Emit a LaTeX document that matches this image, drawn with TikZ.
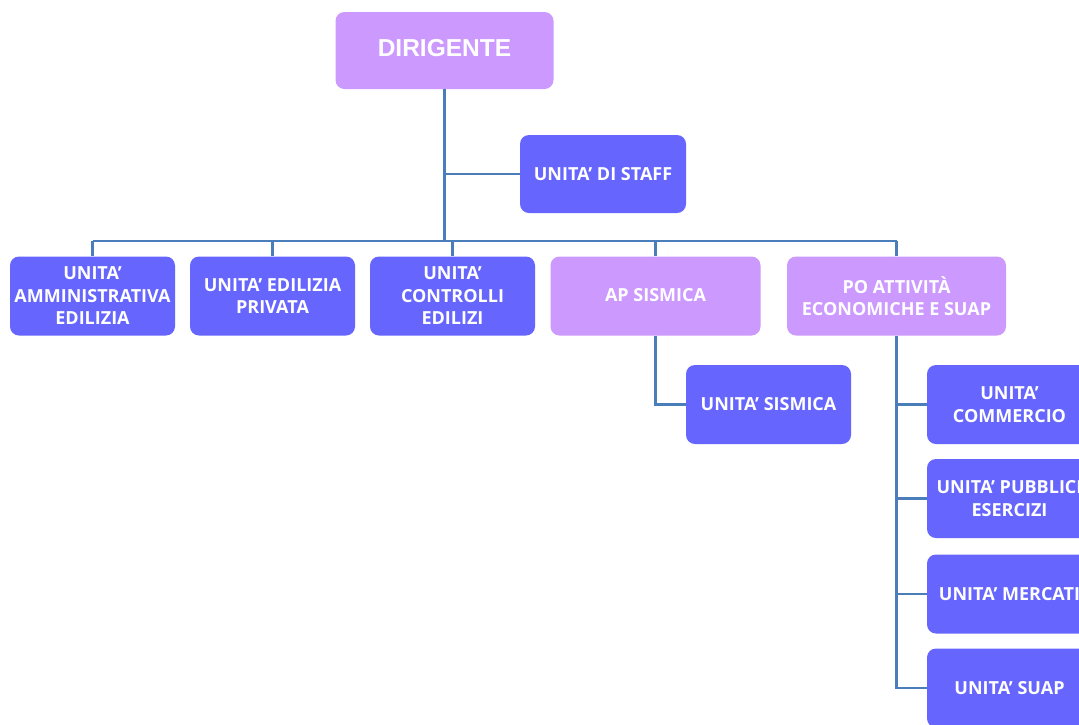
\documentclass[tikz,border=0pt]{standalone}
\usepackage{fontspec}
\setmainfont{Open Sans}
\newfontfamily\headfont{Liberation Sans}
\definecolor{lead}{HTML}{CC99FF}
\definecolor{unit}{HTML}{6666FF}
\definecolor{wire}{HTML}{4A7EBB}
\begin{document}
\begin{tikzpicture}[x=1pt,y=-1pt,
  box/.style={rounded corners=9pt, inner sep=0pt, align=center, text=white,
    font=\bfseries\fontsize{18}{22.5}\selectfont},
  leadbox/.style={box, fill=lead},
  unitbox/.style={box, fill=unit},
  std/.style={minimum width=165pt, minimum height=79pt},
  conn/.style={draw=wire, line width=2.2pt}]
\useasboundingbox (0,0) rectangle (1079,724);
\clip (0,0) rectangle (1079,724);
\fill[white] (0,0) rectangle (1079,724);

% top level
\node[leadbox, minimum width=218pt, minimum height=77pt,
  font=\headfont\bfseries\fontsize{24.5}{28}\selectfont] (d) at (444.5,50.5)
  {\raisebox{6pt}{DIRIGENTE}};
\node[unitbox, minimum width=166pt, minimum height=78pt] (staff) at (603,174) {UNITA’ DI STAFF};

% second row
\node[unitbox, std] (u1) at (92.5,296) {UNITA’\\AMMINISTRATIVA\\EDILIZIA};
\node[unitbox, std] (u2) at (272.5,296) {UNITA’ EDILIZIA\\PRIVATA};
\node[unitbox, std] (u3) at (452.5,296) {UNITA’\\CONTROLLI\\EDILIZI};
\node[leadbox, minimum width=210pt, minimum height=79pt] (ap) at (655.5,296) {\raisebox{2pt}{AP SISMICA}};
\node[leadbox, minimum width=219pt, minimum height=79pt] (po) at (896.5,296) {PO ATTIVITÀ\\ECONOMICHE E SUAP};

% third level (right column runs past the frame)
\node[unitbox, std] (sis) at (768.5,404.5) {UNITA’ SISMICA};
\node[unitbox, std] (com) at (1009.5,404.5) {UNITA’\\COMMERCIO};
\node[unitbox, std] (pub) at (1009.5,498.5) {UNITA’ PUBBLICI\\ESERCIZI};
\node[unitbox, std] (mer) at (1009.5,594) {UNITA’ MERCATI};
\node[unitbox, std] (suap) at (1009.5,688) {UNITA’ SUAP};

% connectors
\coordinate (busL) at (92.5,241);
\coordinate (busR) at (896.5,241);
\draw[conn] (busL) -- (busR);
\draw[conn] (d.south) -- (d.south |- busL);
\draw[conn] (staff.west) -- (staff.west -| d.south);
\foreach \n in {u1,u2,u3,ap,po}
  \draw[conn] (\n.north) -- (\n.north |- busL);
\draw[conn] (ap.south) |- (sis.west);
\draw[conn] (po.south) |- (suap.west);
\foreach \n in {com,pub,mer}
  \draw[conn] (\n.west) -- (\n.west -| po.south);
\end{tikzpicture}
\end{document}
